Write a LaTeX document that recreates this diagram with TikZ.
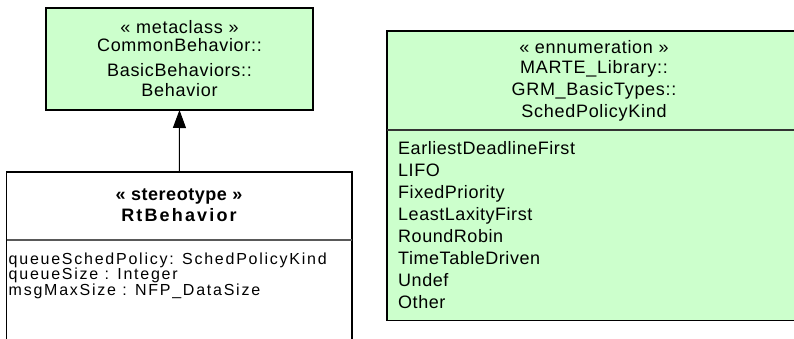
\documentclass[tikz,border=0pt]{standalone}
\usepackage{fontspec}
\setmainfont{Liberation Sans}
\usetikzlibrary{arrows.meta}
\definecolor{umlgreen}{HTML}{CCFFCC}
\newcommand{\hdrfnt}{\fontsize{18}{21}\selectfont\addfontfeature{LetterSpace=4}}
\newcommand{\litfnt}{\fontsize{18}{21}\selectfont\addfontfeature{LetterSpace=3}}
\newcommand{\boldfnt}{\fontsize{18}{21}\selectfont\bfseries\addfontfeature{LetterSpace=12}}
\newcommand{\stfnt}{\fontsize{18}{21}\selectfont\bfseries\addfontfeature{LetterSpace=3}}
\newcommand{\attrfnt}{\fontsize{16}{15.5}\selectfont\addfontfeature{LetterSpace=11}}
\begin{document}
\begin{tikzpicture}[x=1pt,y=-1pt,
  umlbox/.style={draw=black, line width=1.4pt, inner sep=0pt, outer sep=0pt},
  greenbox/.style={umlbox, fill=umlgreen},
  whitebox/.style={umlbox, fill=white},
  hdr/.style={inner sep=0pt, anchor=base, font=\hdrfnt},
  lit/.style={inner sep=0pt, anchor=base west, font=\litfnt},
  bhdr/.style={inner sep=0pt, anchor=base, font=\boldfnt},
  sthdr/.style={inner sep=0pt, anchor=base, font=\stfnt},
  attr/.style={inner sep=0pt, anchor=base west, font=\attrfnt},
  sepline/.style={line width=1.1pt},
  genarrow/.style={line width=1pt, -{Triangle[length=18pt,width=13pt]}}
]
\useasboundingbox (0,0) rectangle (794,339);
\clip (0,0) rectangle (794,339);

% metaclass box
\node[greenbox, minimum width=267pt, minimum height=102pt] (meta) at (179.5,59) {};
\node[hdr] (m1) at (179.5,33.5) {« metaclass »};
\node[hdr] (m2) at (179.5,51.7) {CommonBehavior::};
\node[hdr] (m3) at (179.5,76.5) {BasicBehaviors::};
\node[hdr] (m4) at (179.5,96.3) {Behavior};

% stereotype box
\node[whitebox, minimum width=345.5pt, minimum height=200pt] (rt) at (179.25,272) {};
\coordinate (rtsepl) at (6.5,240);
\coordinate (rtsepr) at (352,240);
\draw[sepline, draw=black!65] (rt.west |- rtsepl) -- (rt.east |- rtsepr);
\node[sthdr] (s1) at (179,200) {« stereotype »};
\node[bhdr] (s2) at (179,221) {RtBehavior};
\node[attr] (a1) at (8.5,264) {queueSchedPolicy: SchedPolicyKind};
\node[attr] (a2) at (8.5,279.5) {queueSize : Integer};
\node[attr] (a3) at (8.5,295) {msgMaxSize : NFP\_DataSize};

% enumeration box
\node[greenbox, minimum width=414pt, minimum height=289.5pt] (en) at (594,175.75) {};
\coordinate (ensep) at (594,130);
\draw[sepline, draw=black!80] (en.west |- ensep) -- (en.east |- ensep);
\node[hdr] (e1) at (594,53.3) {« ennumeration »};
\node[hdr] (e2) at (594,74) {MARTE\_Library::};
\node[hdr] (e3) at (594,95.7) {GRM\_BasicTypes::};
\node[hdr] (e4) at (594,117.3) {SchedPolicyKind};
\node[lit] (l1) at (398,154) {EarliestDeadlineFirst};
\node[lit] (l2) at (398,176) {LIFO};
\node[lit] (l3) at (398,198.1) {FixedPriority};
\node[lit] (l4) at (398,220.1) {LeastLaxityFirst};
\node[lit] (l5) at (398,242.2) {RoundRobin};
\node[lit] (l6) at (398,264.2) {TimeTableDriven};
\node[lit] (l7) at (398,286.2) {Undef};
\node[lit] (l8) at (398,308.3) {Other};

% generalization
\draw[genarrow] (rt.north) -- (meta.south);
\end{tikzpicture}
\end{document}
